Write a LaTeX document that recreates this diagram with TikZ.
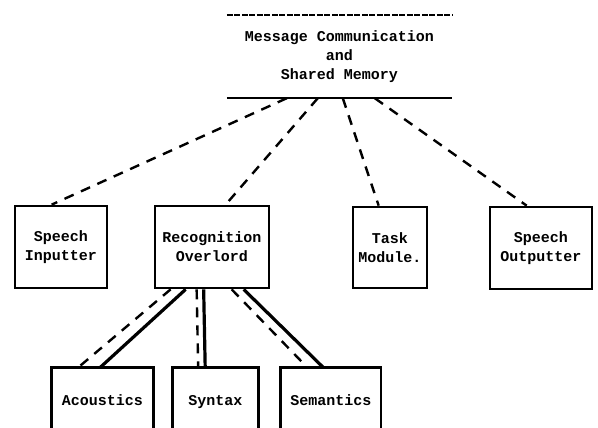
\documentclass[tikz,border=0pt]{standalone}
\usepackage{fontspec}
\setmonofont{Liberation Mono}
\usetikzlibrary{positioning,calc}

\begin{document}
\begin{tikzpicture}[x=1pt,y=-1pt,
	modbox/.style={ % 模块方框
		draw, line width=2.7pt, inner sep=0pt,
		font=\ttfamily\bfseries\fontsize{15}{19}\selectfont, align=center
	},
	openbox/.style={ % 下方没有底边的方框
		inner sep=0pt, minimum height=70, text height=1.6ex, text depth=0.4ex,
		font=\ttfamily\bfseries\fontsize{15}{19}\selectfont
	},
	link/.style={line width=2.4pt, dash pattern=on 10pt off 8pt},
	hard/.style={line width=3.2pt}
]
	\useasboundingbox (0,0) rectangle (598,428);
	%% 共享存储
	\node[font=\ttfamily\bfseries\fontsize{15}{19}\selectfont, align=center,
		minimum width=225, minimum height=83, inner sep=0pt] (mem) at (339.5,56.5)
		{Message Communication\\and\\Shared Memory};
	\draw[line width=2pt, dash pattern=on 6pt off 1.5pt] (mem.north west) -- (mem.north east);
	\draw[line width=2.2pt] (mem.south west) -- (mem.south east);
	%% 上层模块
	\node[modbox, minimum width=92, minimum height=82] (inp) at (61,247) {Speech\\Inputter};
	\node[modbox, minimum width=114, minimum height=82] (rec) at (212,247) {Recognition\\Overlord};
	\node[modbox, minimum width=74, minimum height=81] (task) at (390,247.5) {Task\\Module.};
	\node[modbox, minimum width=102, minimum height=82] (outp) at (541,248) {Speech\\Outputter};
	%% 下层模块
	\node[openbox, minimum width=101] (acou) at (102.5,403) {Acoustics};
	\node[openbox, minimum width=86, right =19 of acou] (syn) {Syntax};
	\node[openbox, minimum width=100, right =22 of syn] (sem) {Semantics};
	\foreach \b in {acou,syn,sem}
		\draw[line width=2.7pt] ([yshift=10pt]\b.south west) |- (\b.north east) -- ([yshift=10pt]\b.south east);
	% 与共享存储的连线
	\draw[link] ($(mem.south west)+(60,0)$) -- ($(inp.north west)+(38,0)$);
	\draw[link] ($(mem.south west)+(91,0)$) -- ($(rec.north west)+(72,0)$);
	\draw[link] ($(mem.south west)+(116,0)$) -- ($(task.north west)+(27,0)$);
	\draw[link] ($(mem.south west)+(148,0)$) -- ($(outp.north west)+(38,0)$);
	% 识别总控与下层模块的双线
	\draw[link] ($(rec.south west)+(17,0)$) -- ($(acou.north west)+(26,0)$);
	\draw[hard] ($(rec.south west)+(32,0)$) -- ($(acou.north west)+(48,0)$);
	\draw[link] ($(rec.south west)+(43,0)$) -- ($(syn.north west)+(26,0)$);
	\draw[hard] ($(rec.south west)+(50,0)$) -- ($(syn.north west)+(33,0)$);
	\draw[link] ($(rec.south west)+(78,0)$) -- ($(sem.north west)+(27,0)$);
	\draw[hard] ($(rec.south west)+(90,0)$) -- ($(sem.north west)+(43,0)$);
\end{tikzpicture}
\end{document}
